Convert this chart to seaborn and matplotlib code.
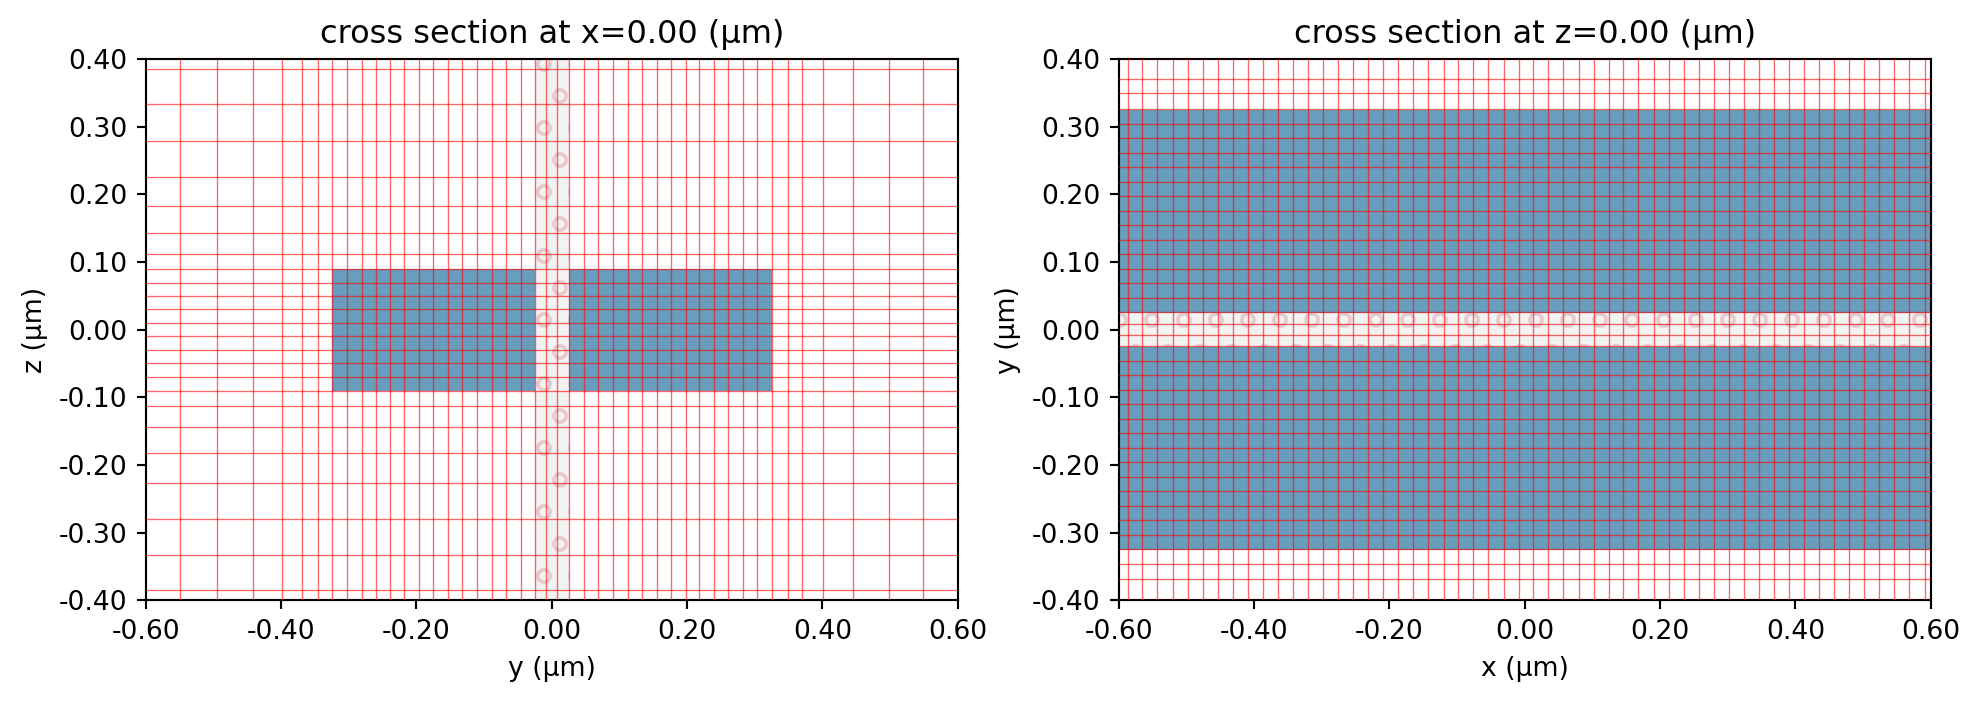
import numpy as np
import pandas as pd
import matplotlib
matplotlib.use("Agg")
import matplotlib.pyplot as plt
from matplotlib.patches import Rectangle
import seaborn as sns

# structure extents (um)
wg_y = [(-0.325, -0.025), (0.025, 0.325)]   # the two waveguides, along y
wg_z = (-0.09, 0.09)                         # waveguide thickness
gap_y = (-0.025, 0.025)                      # thin slab in the gap

# mesh lines (um)
grid_y = [-0.549, -0.495, -0.442, -0.399, -0.369, -0.346, -0.324, -0.303, -0.281,
          -0.260, -0.239, -0.218, -0.196, -0.175, -0.153, -0.132, -0.110, -0.089,
          -0.067, -0.046, -0.024, -0.008, 0.008, 0.026, 0.047, 0.069, 0.090,
          0.112, 0.133, 0.155, 0.176, 0.198, 0.218, 0.240, 0.261, 0.283, 0.304,
          0.326, 0.349, 0.370, 0.401, 0.445, 0.498, 0.549]
grid_z = [-0.385, -0.333, -0.280, -0.227, -0.183, -0.144, -0.113, -0.091, -0.070,
          -0.050, -0.030, -0.010, 0.010, 0.030, 0.049, 0.069, 0.090, 0.112,
          0.143, 0.183, 0.226, 0.279, 0.333, 0.385]
grid_x = [-0.587, -0.565, -0.543, -0.520, -0.498, -0.476, -0.454, -0.431, -0.409,
          -0.387, -0.365, -0.343, -0.320, -0.298, -0.276, -0.254, -0.231, -0.209,
          -0.187, -0.165, -0.143, -0.120, -0.098, -0.076, -0.054, -0.031, -0.009,
          0.013, 0.035, 0.057, 0.080, 0.102, 0.124, 0.146, 0.168, 0.191, 0.213,
          0.235, 0.257, 0.280, 0.302, 0.324, 0.346, 0.368, 0.391, 0.413, 0.435,
          0.457, 0.480, 0.502, 0.524, 0.546, 0.568, 0.591]

xticks = [-0.6, -0.4, -0.2, 0.0, 0.2, 0.4, 0.6]
yticks = [-0.4, -0.3, -0.2, -0.1, 0.0, 0.1, 0.2, 0.3, 0.4]

wg_color = "#689dbd"
gap_color = "#f2f2f2"
dot_color = (0.8, 0.35, 0.4, 0.22)
line_kw = dict(color="red", lw=0.5, alpha=0.6, zorder=5)

sns.set_style("ticks", {"axes.edgecolor": "black", "text.color": "black",
                        "xtick.color": "black", "ytick.color": "black",
                        "axes.labelcolor": "black"})
plt.rcParams["font.family"] = ["DejaVu Sans"]
plt.rcParams["hatch.linewidth"] = 1.2

fig = plt.figure(figsize=(10.3125, 3.6615), dpi=192)
ax1 = fig.add_axes([0.0736, 0.1461, 0.4101, 0.7700])
ax2 = fig.add_axes([0.5650, 0.1461, 0.4101, 0.7700])

# left: cross section at x=0 (y horizontal, z vertical)
for y0, y1 in wg_y:
    ax1.add_patch(Rectangle((y0, wg_z[0]), y1 - y0, wg_z[1] - wg_z[0],
                            facecolor=wg_color, edgecolor="none", zorder=2))
ax1.add_patch(Rectangle((gap_y[0], -1), gap_y[1] - gap_y[0], 2,
                        facecolor=gap_color, edgecolor=dot_color, lw=0,
                        hatch="o", zorder=2))
for v in grid_y:
    ax1.axvline(v, **line_kw)
for v in grid_z:
    ax1.axhline(v, **line_kw)
ax1.set_xlabel("y (μm)")
ax1.set_ylabel("z (μm)")
ax1.set_title("cross section at x=0.00 (μm)")

# right: cross section at z=0 (x horizontal, y vertical)
for y0, y1 in wg_y:
    ax2.add_patch(Rectangle((-1, y0), 2, y1 - y0,
                            facecolor=wg_color, edgecolor="none", zorder=2))
ax2.add_patch(Rectangle((-1, gap_y[0]), 2, gap_y[1] - gap_y[0],
                        facecolor=gap_color, edgecolor=dot_color, lw=0,
                        hatch="o", zorder=2))
for v in grid_x:
    ax2.axvline(v, **line_kw)
for v in grid_y:
    ax2.axhline(v, **line_kw)
ax2.set_xlabel("x (μm)")
ax2.set_ylabel("y (μm)")
ax2.set_title("cross section at z=0.00 (μm)")

for ax in (ax1, ax2):
    ax.set_xlim(-0.6, 0.6)
    ax.set_ylim(-0.4, 0.4)
    ax.set_xticks(xticks)
    ax.set_yticks(yticks)
    ax.set_xticklabels([f"{t:.2f}" for t in xticks])
    ax.set_yticklabels([f"{t:.2f}" for t in yticks])
    ax.set_aspect("equal", adjustable="box")

fig.savefig("out.png", dpi=192)
